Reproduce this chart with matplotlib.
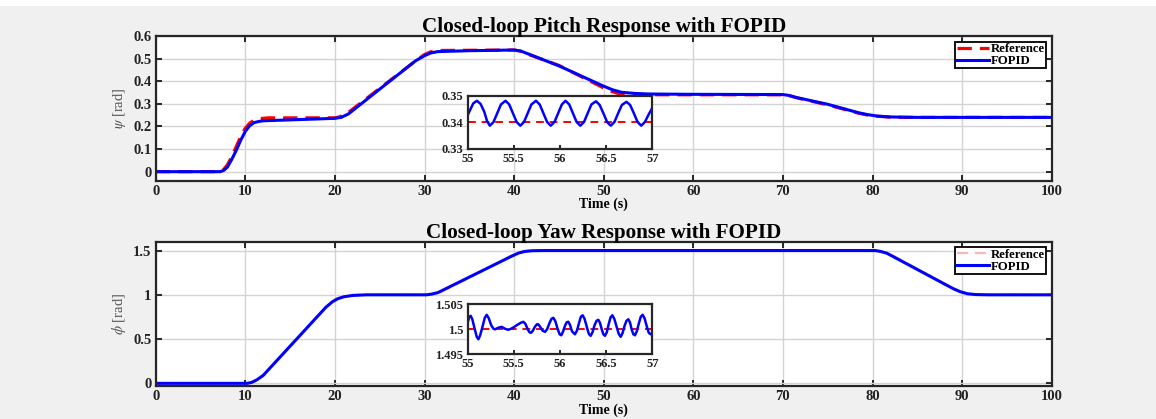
import matplotlib
matplotlib.use("Agg")
import matplotlib.pyplot as plt
from matplotlib.patches import Rectangle

plt.rcParams['font.family'] = ['Liberation Serif', 'DejaVu Serif']
plt.rcParams['mathtext.fontset'] = 'stix'

# pitch: reference and FOPID response (t [s], psi [rad])
pitch_ref_t = [0, 7.0, 7.5, 8.0, 8.5, 9.0, 9.5, 10.0, 10.5, 11.0, 11.5, 12.5, 20.0, 20.5, 21.5,
               29.0, 30.0, 30.7, 31.5, 40.0, 40.7, 41.5, 45.0, 48.5, 50.5, 51.5, 52.5, 54.0,
               70.0, 70.7, 71.5, 75.0, 78.5, 79.5, 80.5, 82.0, 84.0, 100]
pitch_ref = [0, 0, 0.006, 0.03, 0.068, 0.112, 0.157, 0.192, 0.215, 0.228, 0.234, 0.238, 0.238, 0.242, 0.262,
             0.49, 0.518, 0.530, 0.536, 0.538, 0.533, 0.52, 0.47, 0.40, 0.36, 0.347, 0.342, 0.340,
             0.340, 0.336, 0.327, 0.295, 0.258, 0.250, 0.245, 0.241, 0.240, 0.240]

pitch_fo_t = [0, 7.2, 7.6, 8.0, 8.5, 9.0, 9.5, 10.0, 10.5, 11.0, 11.5, 12.0, 15.0, 18.0, 20.0, 20.7, 21.5,
              25.0, 29.0, 30.0, 30.7, 31.5, 35.0, 40.0, 40.7, 41.5, 45.0, 48.5, 50.0, 51.0, 52.0, 53.5,
              55.0, 60.0, 70.0, 70.7, 71.5, 75.0, 78.5, 79.5, 80.5, 82.0, 85.0, 100]
pitch_fo = [0, 0, 0.006, 0.02, 0.055, 0.095, 0.14, 0.178, 0.204, 0.217, 0.222, 0.225, 0.229, 0.233, 0.236, 0.240, 0.255,
            0.365, 0.49, 0.513, 0.525, 0.531, 0.535, 0.538, 0.534, 0.522, 0.468, 0.405, 0.378, 0.362, 0.351, 0.346,
            0.3435, 0.342, 0.341, 0.337, 0.328, 0.298, 0.260, 0.252, 0.246, 0.242, 0.240, 0.240]

# pitch zoom window 55..57 s
pz_t = [55.00, 55.03, 55.06, 55.10, 55.14, 55.18, 55.21, 55.24, 55.28, 55.32, 55.36, 55.41, 55.45, 55.49,
        55.53, 55.57, 55.61, 55.65, 55.69, 55.74, 55.78, 55.82, 55.86, 55.90, 55.94, 55.98, 56.02, 56.06,
        56.10, 56.14, 56.18, 56.22, 56.26, 56.30, 56.34, 56.39, 56.43, 56.47, 56.51, 56.55, 56.59, 56.63,
        56.67, 56.72, 56.76, 56.80, 56.84, 56.88, 56.92, 56.96, 57.00]
pz_fo = [0.3428, 0.3450, 0.3472, 0.3482, 0.3470, 0.3440, 0.3405, 0.3388, 0.3402, 0.3435, 0.3468, 0.3482, 0.3468, 0.3435,
         0.3402, 0.3388, 0.3402, 0.3435, 0.3468, 0.3482, 0.3468, 0.3435, 0.3402, 0.3388, 0.3402, 0.3435, 0.3468, 0.3482,
         0.3468, 0.3435, 0.3402, 0.3388, 0.3402, 0.3435, 0.3468, 0.3480, 0.3466, 0.3435, 0.3402, 0.3388, 0.3402, 0.3435,
         0.3466, 0.3478, 0.3466, 0.3435, 0.3402, 0.3388, 0.3402, 0.3430, 0.3455]
pz_ref = [0.34, 0.34]

# yaw: reference and FOPID response (t [s], phi [rad])
yaw_ref_t = [0, 10.3, 11.0, 12.0, 19.0, 20.0, 21.0, 22.0, 30.3, 31.0, 32.0, 39.0, 40.0, 41.0, 42.0,
             80.3, 81.0, 82.0, 89.0, 90.0, 91.0, 92.0, 100]
yaw_ref = [0, 0, 0.02, 0.09, 0.86, 0.95, 0.985, 1.0, 1.0, 1.012, 1.04, 1.40, 1.46, 1.49, 1.5,
           1.5, 1.488, 1.46, 1.07, 1.025, 1.005, 1.0, 1.0]

yaw_fo_t = [0, 10.2, 10.7, 11.3, 12.0, 19.0, 19.7, 20.3, 21.0, 22.0, 23.5, 30.2, 30.8, 31.5, 39.0, 39.8,
            40.5, 41.2, 42.0, 43.5, 80.3, 80.9, 81.6, 89.0, 89.8, 90.6, 91.5, 93.0, 100]
yaw_fo = [0, 0, 0.01, 0.04, 0.09, 0.86, 0.92, 0.955, 0.978, 0.993, 1.0, 1.0, 1.008, 1.025, 1.40, 1.44,
          1.472, 1.49, 1.498, 1.5, 1.5, 1.49, 1.47, 1.07, 1.035, 1.012, 1.003, 1.0, 1.0]

# yaw zoom window 55..57 s
yz_t = [55.000, 55.015, 55.032, 55.050, 55.074, 55.098, 55.116, 55.135, 55.160, 55.185, 55.206, 55.228,
        55.255, 55.280, 55.296, 55.330, 55.368, 55.405, 55.440, 55.480, 55.530, 55.575, 55.603, 55.625,
        55.650, 55.670, 55.686, 55.705, 55.728, 55.750, 55.765, 55.785, 55.812, 55.838, 55.860, 55.885,
        55.908, 55.928, 55.950, 55.972, 55.996, 56.014, 56.032, 56.052, 56.072, 56.090, 56.108, 56.130,
        56.162, 56.185, 56.205, 56.226, 56.245, 56.266, 56.290, 56.312, 56.332, 56.352, 56.374, 56.396,
        56.415, 56.433, 56.452, 56.470, 56.487, 56.507, 56.527, 56.548, 56.567, 56.588, 56.612, 56.636,
        56.657, 56.677, 56.698, 56.720, 56.740, 56.758, 56.776, 56.795, 56.812, 56.832, 56.853, 56.875,
        56.895, 56.916, 56.940, 56.962, 56.982, 57.000]
yz_fo = [1.5013, 1.5024, 1.5027, 1.5020, 1.5002, 1.4985, 1.4980, 1.4988, 1.5005, 1.5023, 1.5029, 1.5022,
         1.5008, 1.5001, 1.5000, 1.5003, 1.5005, 1.5001, 1.4999, 1.5002, 1.5008, 1.5013, 1.5015, 1.5011,
         1.5000, 1.4994, 1.4993, 1.4997, 1.5005, 1.5010, 1.5010, 1.5005, 1.4997, 1.4995, 1.5000, 1.5012,
         1.5021, 1.5023, 1.5016, 1.5002, 1.4990, 1.4988, 1.4995, 1.5006, 1.5014, 1.5015, 1.5009, 1.4996,
         1.4990, 1.4998, 1.5012, 1.5025, 1.5028, 1.5021, 1.5005, 1.4991, 1.4987, 1.4994, 1.5008, 1.5017,
         1.5019, 1.5013, 1.5000, 1.4990, 1.4987, 1.4994, 1.5010, 1.5024, 1.5028, 1.5021, 1.5006, 1.4991,
         1.4985, 1.4992, 1.5006, 1.5017, 1.5020, 1.5014, 1.5000, 1.4990, 1.4988, 1.4996, 1.5011, 1.5025,
         1.5029, 1.5022, 1.5006, 1.4993, 1.4990, 1.4993]
yz_ref = [1.5, 1.5]

W, H = 1156, 419
fig = plt.figure(figsize=(W / 100, H / 100), dpi=100, facecolor='#f0f0f0')
fig.patches.append(Rectangle((0, 1 - 6 / H), 1, 6 / H, transform=fig.transFigure,
                             facecolor='white', edgecolor='none', zorder=0))

edge = '#262626'
blue = '#0000ff'
red = '#ff0000'


def style(ax, size=10.5, grid=True):
    ax.set_facecolor('white')
    for s in ax.spines.values():
        s.set_color(edge)
        s.set_linewidth(1.6)
    ax.tick_params(direction='in', length=4, width=1.4, color=edge, labelsize=size,
                   top=True, right=True, pad=3, labelcolor='#222222')
    for lab in ax.get_xticklabels() + ax.get_yticklabels():
        lab.set_fontweight('bold')
    if grid:
        ax.grid(True, color='#d4d4d4', linewidth=1.0)
        ax.set_axisbelow(True)


def box(x0, y0, x1, y1):
    return [x0 / W, 1 - y1 / H, (x1 - x0) / W, (y1 - y0) / H]


def legend(ax):
    leg = ax.legend(loc='upper right', prop={'weight': 'bold', 'size': 9.2}, fancybox=False,
                    framealpha=1, edgecolor='#111111', borderpad=0.1, handlelength=2.5, handletextpad=0.15,
                    labelspacing=0.0, borderaxespad=0.45)
    leg.get_frame().set_linewidth(1.4)


# ---- pitch
ax1 = fig.add_axes(box(155.7, 36, 1051.7, 180.7))
ax1.plot(pitch_ref_t, pitch_ref, '--', color=red, lw=2.3, dashes=(4.5, 2.5), label='Reference')
ax1.plot(pitch_fo_t, pitch_fo, '-', color=blue, lw=2.2, label='FOPID')
ax1.set_xlim(0, 100)
ax1.set_ylim(-0.04, 0.6)
ax1.set_xticks(range(0, 101, 10))
ax1.set_yticks([0, 0.1, 0.2, 0.3, 0.4, 0.5, 0.6])
ax1.set_yticklabels(['0', '0.1', '0.2', '0.3', '0.4', '0.5', '0.6'])
style(ax1)
ax1.set_title('Closed-loop Pitch Response with FOPID', fontsize=15.2, fontweight='bold', pad=3)
ax1.set_xlabel('Time (s)', fontsize=10, fontweight='bold', labelpad=0)
ax1.set_ylabel(r'$\psi$ [rad]', fontsize=10.5, color='#555555', labelpad=4)
legend(ax1)

ins1 = fig.add_axes(box(467.7, 96, 652.3, 149))
ins1.plot([55, 57], pz_ref, '--', color=red, lw=1.4, dashes=(4, 3))
ins1.plot(pz_t, pz_fo, '-', color=blue, lw=1.8)
ins1.set_xlim(55, 57)
ins1.set_ylim(0.33, 0.35)
ins1.set_xticks([55, 55.5, 56, 56.5, 57])
ins1.set_xticklabels(['55', '55.5', '56', '56.5', '57'])
ins1.set_yticks([0.33, 0.34, 0.35])
ins1.set_yticklabels(['0.33', '0.34', '0.35'])
style(ins1, size=9, grid=False)
ins1.tick_params(top=False, right=False, length=3, pad=3)

# ---- yaw
ax2 = fig.add_axes(box(155.7, 241.7, 1051.7, 386))
ax2.plot(yaw_ref_t, yaw_ref, '--', color='#ffb3b3', lw=1.6, dashes=(5, 3), label='Reference')
ax2.plot(yaw_fo_t, yaw_fo, '-', color=blue, lw=2.2, label='FOPID')
ax2.set_xlim(0, 100)
ax2.set_ylim(-0.03, 1.6)
ax2.set_xticks(range(0, 101, 10))
ax2.set_yticks([0, 0.5, 1, 1.5])
ax2.set_yticklabels(['0', '0.5', '1', '1.5'])
style(ax2)
ax2.set_title('Closed-loop Yaw Response with FOPID', fontsize=15.2, fontweight='bold', pad=3)
ax2.set_xlabel('Time (s)', fontsize=10, fontweight='bold', labelpad=0)
ax2.set_ylabel(r'$\phi$ [rad]', fontsize=10.5, color='#555555', labelpad=4)
legend(ax2)

ins2 = fig.add_axes(box(467.7, 304.3, 652.3, 354.3))
ins2.plot([55, 57], yz_ref, '--', color=red, lw=1.4, dashes=(4, 3))
ins2.plot(yz_t, yz_fo, '-', color=blue, lw=1.8)
ins2.set_xlim(55, 57)
ins2.set_ylim(1.495, 1.505)
ins2.set_xticks([55, 55.5, 56, 56.5, 57])
ins2.set_xticklabels(['55', '55.5', '56', '56.5', '57'])
ins2.set_yticks([1.495, 1.5, 1.505])
ins2.set_yticklabels(['1.495', '1.5', '1.505'])
style(ins2, size=9, grid=False)
ins2.tick_params(top=False, right=False, length=3, pad=3)

fig.savefig('out.png', dpi=100, facecolor=fig.get_facecolor())
